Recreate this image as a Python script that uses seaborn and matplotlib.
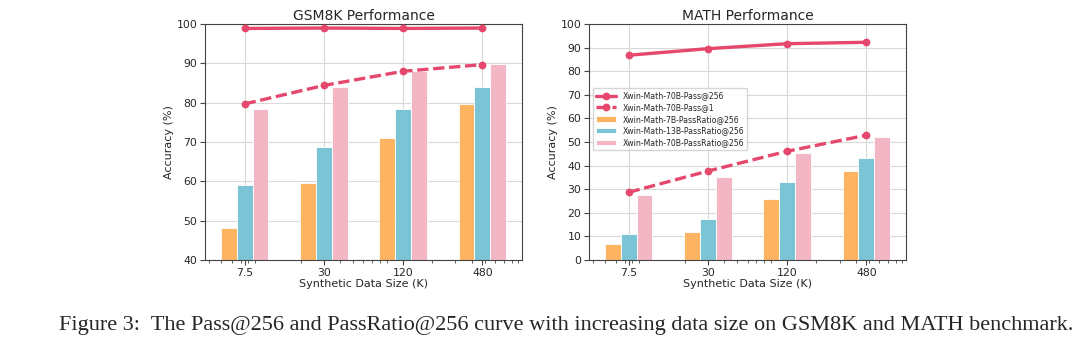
import numpy as np
import pandas as pd
import seaborn as sns
import matplotlib.pyplot as plt
from matplotlib.ticker import FixedLocator, NullFormatter

# data
sizes = [7.5, 30, 120, 480]
size_labels = ["7.5", "30", "120", "480"]

gsm_pass256 = [98.9, 99.0, 98.9, 99.0]
gsm_pass1 = [79.7, 84.4, 88.0, 89.7]
gsm_7b = [48.1, 59.7, 71.1, 79.6]
gsm_13b = [59.1, 68.8, 78.4, 84.0]
gsm_70b = [78.5, 84.1, 88.1, 89.8]

math_pass256 = [86.8, 89.6, 91.7, 92.3]
math_pass1 = [28.7, 37.7, 46.1, 52.9]
math_7b = [6.9, 11.7, 25.7, 37.7]
math_13b = [10.9, 17.4, 33.2, 43.1]
math_70b = [27.7, 35.3, 45.3, 52.1]

RED = "#E5486C"
ORANGE = "#FDB462"
BLUE = "#7BC4D5"
PINK = "#F2B6C4"

sns.set_style("whitegrid", {"axes.edgecolor": "#444444", "grid.color": "#d9d9d9",
                            "xtick.bottom": True, "ytick.left": True})
plt.rcParams["font.family"] = ["DejaVu Sans"]

fig = plt.figure(figsize=(10.8, 3.51), dpi=100)
ax1 = fig.add_axes([0.1898, 0.2593, 0.2935, 0.672])
ax2 = fig.add_axes([0.5454, 0.2593, 0.2935, 0.672])


def draw(ax, p256, p1, b7, b13, b70, title, ylim, legend=False):
    x = np.array(sizes)
    step = 4.0
    w = 0.2
    for vals, off, col, lab in [(b7, -1, ORANGE, "Xwin-Math-7B-PassRatio@256"),
                                (b13, 0, BLUE, "Xwin-Math-13B-PassRatio@256"),
                                (b70, 1, PINK, "Xwin-Math-70B-PassRatio@256")]:
        left = x * step ** (off * w - w / 2)
        right = x * step ** (off * w + w / 2)
        ax.bar(left, vals, width=right - left, align="edge", color=col,
               edgecolor="white", linewidth=0.6, label=lab, zorder=2)
    df = pd.DataFrame({"size": sizes * 2, "acc": p256 + p1,
                       "series": ["Xwin-Math-70B-Pass@256"] * 4 + ["Xwin-Math-70B-Pass@1"] * 4})
    sns.lineplot(data=df, x="size", y="acc", style="series", markers=["o", "o"],
                 dashes=[(None, None), (3.4, 1.4)], color=RED, linewidth=2.4,
                 markersize=5.6, markeredgewidth=0, ax=ax, zorder=3, legend=legend)
    ax.set_xscale("log")
    ax.set_xlim(sizes[0] / 2, sizes[-1] * 2)
    ax.xaxis.set_major_locator(FixedLocator(sizes))
    ax.set_xticklabels(size_labels)
    ax.xaxis.set_minor_formatter(NullFormatter())
    ax.tick_params(axis="x", which="minor", length=2, color="#444444", bottom=True)
    ax.tick_params(axis="both", which="major", length=3.5, color="#444444",
                   labelsize=7.8, pad=2)
    ax.set_ylim(*ylim)
    ax.set_yticks(np.arange(ylim[0], ylim[1] + 1, 10))
    ax.grid(True, which="major", linewidth=0.8)
    ax.grid(False, which="minor")
    ax.set_title(title, fontsize=10, pad=3)
    ax.set_xlabel("Synthetic Data Size (K)", fontsize=8, labelpad=1)
    ax.set_ylabel("Accuracy (%)", fontsize=8, labelpad=2)
    for s in ax.spines.values():
        s.set_linewidth(0.8)


draw(ax1, gsm_pass256, gsm_pass1, gsm_7b, gsm_13b, gsm_70b, "GSM8K Performance", (40, 100))
draw(ax2, math_pass256, math_pass1, math_7b, math_13b, math_70b, "MATH Performance", (0, 100), legend=True)

h, l = ax2.get_legend_handles_labels()
order = [l.index(n) for n in ["Xwin-Math-70B-Pass@256", "Xwin-Math-70B-Pass@1",
                                "Xwin-Math-7B-PassRatio@256", "Xwin-Math-13B-PassRatio@256",
                                "Xwin-Math-70B-PassRatio@256"]]
ax2.legend([h[i] for i in order], [l[i] for i in order], loc="upper left",
           bbox_to_anchor=(0.0, 0.745), fontsize=5.6, frameon=True,
           borderpad=0.4, labelspacing=0.35, handlelength=2.6, handletextpad=0.8)

fig.text(0.524, 0.074, "Figure 3:  The Pass@256 and PassRatio@256 curve with increasing data size on GSM8K and MATH benchmark.",
         ha="center", va="center", fontsize=16, family=["Liberation Serif", "DejaVu Serif"])

fig.savefig("out.png", dpi=100)
